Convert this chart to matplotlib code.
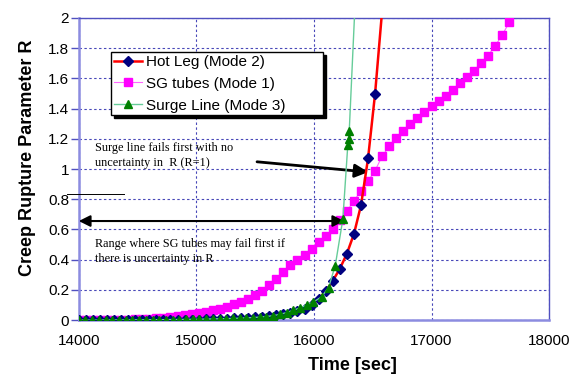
import matplotlib
matplotlib.use("Agg")
import matplotlib.pyplot as plt

plt.rcParams["font.family"] = ["Liberation Sans", "DejaVu Sans"]

# Hot Leg (Mode 2) and SG tubes (Mode 1), 60 s output step
time = [14000, 14060, 14120, 14180, 14240, 14300, 14360, 14420, 14480, 14540,
        14600, 14660, 14720, 14780, 14840, 14900, 14960, 15020, 15080, 15140,
        15200, 15260, 15320, 15380, 15440, 15500, 15560, 15620, 15680, 15740,
        15800, 15860, 15920, 15980, 16040, 16100, 16160, 16220, 16280, 16340,
        16400, 16460, 16520, 16580, 16640, 16700, 16760, 16820, 16880, 16940,
        17000, 17060, 17120, 17180, 17240, 17300, 17360, 17420, 17480, 17540,
        17600, 17660]

sg_tubes = [0.000, 0.000, 0.001, 0.001, 0.002, 0.002, 0.003, 0.004, 0.005, 0.007,
            0.009, 0.012, 0.016, 0.020, 0.025, 0.031, 0.038, 0.046, 0.055, 0.065,
            0.077, 0.090, 0.104, 0.120, 0.140, 0.165, 0.195, 0.230, 0.270, 0.320,
            0.365, 0.395, 0.430, 0.470, 0.520, 0.560, 0.600, 0.660, 0.720, 0.790,
            0.855, 0.920, 0.990, 1.085, 1.150, 1.205, 1.255, 1.295, 1.335, 1.375,
            1.415, 1.450, 1.485, 1.525, 1.570, 1.610, 1.650, 1.700, 1.750, 1.815,
            1.885, 1.970]

hot_time = time[:44]
hot_leg = [0.000, 0.000, 0.000, 0.000, 0.000, 0.000, 0.000, 0.000, 0.000, 0.001,
           0.001, 0.001, 0.001, 0.002, 0.002, 0.002, 0.003, 0.004, 0.005, 0.006,
           0.007, 0.009, 0.011, 0.013, 0.016, 0.019, 0.023, 0.027, 0.032, 0.038,
           0.046, 0.058, 0.075, 0.100, 0.140, 0.190, 0.260, 0.340, 0.440, 0.570,
           0.760, 1.070, 1.500, 2.050]

# Surge Line (Mode 3), finer output near failure
surge_time = [14000, 14057, 14114, 14171, 14228, 14285, 14342, 14399, 14456, 14513,
              14570, 14627, 14684, 14741, 14798, 14855, 14912, 14969, 15026, 15083,
              15140, 15197, 15254, 15311, 15368, 15425, 15482, 15539, 15596, 15653,
              15710, 15767, 15824, 15881, 15938, 15995, 16067, 16124, 16181, 16246,
              16288, 16294, 16300, 16350]
surge_line = [0.000, 0.000, 0.000, 0.000, 0.001, 0.001, 0.001, 0.001, 0.002, 0.002,
              0.002, 0.003, 0.003, 0.003, 0.004, 0.004, 0.005, 0.005, 0.006, 0.007,
              0.008, 0.009, 0.010, 0.011, 0.013, 0.015, 0.017, 0.020, 0.024, 0.030,
              0.038, 0.050, 0.065, 0.082, 0.099, 0.120, 0.155, 0.216, 0.360, 0.670,
              1.160, 1.200, 1.250, 2.100]

fig = plt.figure(figsize=(5.75, 3.74), dpi=100)
ax = fig.add_axes([0.137, 0.144, 0.818, 0.808])

ax.plot(hot_time, hot_leg, color="red", lw=1.8, marker="D", ms=5.5,
        mfc="#000080", mec="#000080", label="Hot Leg (Mode 2)", zorder=4)
ax.plot(time, sg_tubes, color="#ff66ff", lw=0.8, marker="s", ms=5.8,
        mfc="#ff00ff", mec="#ff00ff", label="SG tubes (Mode 1)", zorder=3)
ax.plot(surge_time, surge_line, color="#66cc99", lw=1.0, marker="^", ms=5.5,
        mfc="#008000", mec="#008000", label="Surge Line (Mode 3)", zorder=5)

ax.set_xlim(14000, 18000)
ax.set_ylim(0, 2)
ax.set_xticks([14000, 15000, 16000, 17000, 18000])
ax.set_yticks([0, 0.2, 0.4, 0.6, 0.8, 1.0, 1.2, 1.4, 1.6, 1.8, 2.0])
ax.set_yticklabels(["0", "0.2", "0.4", "0.6", "0.8", "1", "1.2", "1.4", "1.6", "1.8", "2"])
ax.tick_params(axis="both", labelsize=11)
ax.tick_params(axis="x", length=0, pad=10)
ax.tick_params(axis="y", length=6, width=1, color="#5050c0", pad=1)

ax.grid(True, color="#4848b8", linestyle=(0, (2.2, 2.2)), linewidth=0.8)
ax.set_axisbelow(True)
for side in ["left", "bottom"]:
    ax.spines[side].set_color("#8c8ce0")
    ax.spines[side].set_linewidth(1.8)
for side in ["top", "right"]:
    ax.spines[side].set_color("#5050c0")
    ax.spines[side].set_linewidth(1.0)

ax.set_xlabel("Time [sec]", fontsize=13, fontweight="bold")
ax.xaxis.set_label_coords(0.582, -0.123)
ax.set_ylabel("Creep Rupture Parameter R", fontsize=13, fontweight="bold")
ax.yaxis.set_label_coords(-0.092, 0.536)

leg = ax.legend(loc="upper left", bbox_to_anchor=(0.068, 0.5, 0.451, 0.387),
                mode="expand", fontsize=11, frameon=True, fancybox=False,
                framealpha=1, edgecolor="black", borderpad=0.18, labelspacing=0.52,
                handlelength=1.85, handletextpad=0.25, borderaxespad=0,
                shadow={"color": "black", "alpha": 1})
leg.get_frame().set_linewidth(1.0)

serif = ["Liberation Serif", "DejaVu Serif"]
ax.text(14136, 1.18, "Surge line fails first with no\nuncertainty in  R (R=1)",
        family=serif, fontsize=8.8, va="top", ha="left", linespacing=1.35)
ax.annotate("", xy=(16462, 0.98), xytext=(15516, 1.048),
            arrowprops=dict(arrowstyle="-|>", lw=2, color="black",
                            mutation_scale=20, shrinkA=0, shrinkB=0))

ax.text(14136, 0.543, "Range where SG tubes may fail first if\nthere is uncertainty in R",
        family=serif, fontsize=8.8, va="top", ha="left", linespacing=1.35)
ax.annotate("", xy=(14000, 0.656), xytext=(16257, 0.656),
            arrowprops=dict(arrowstyle="<|-|>", lw=1.5, color="black",
                            mutation_scale=17, shrinkA=0, shrinkB=0))

# stray short line left of the axis near R = 0.83
ax.plot([13898, 14383], [0.832, 0.832], color="black", lw=0.7, clip_on=False, zorder=6)

fig.savefig("out.png", dpi=100)
